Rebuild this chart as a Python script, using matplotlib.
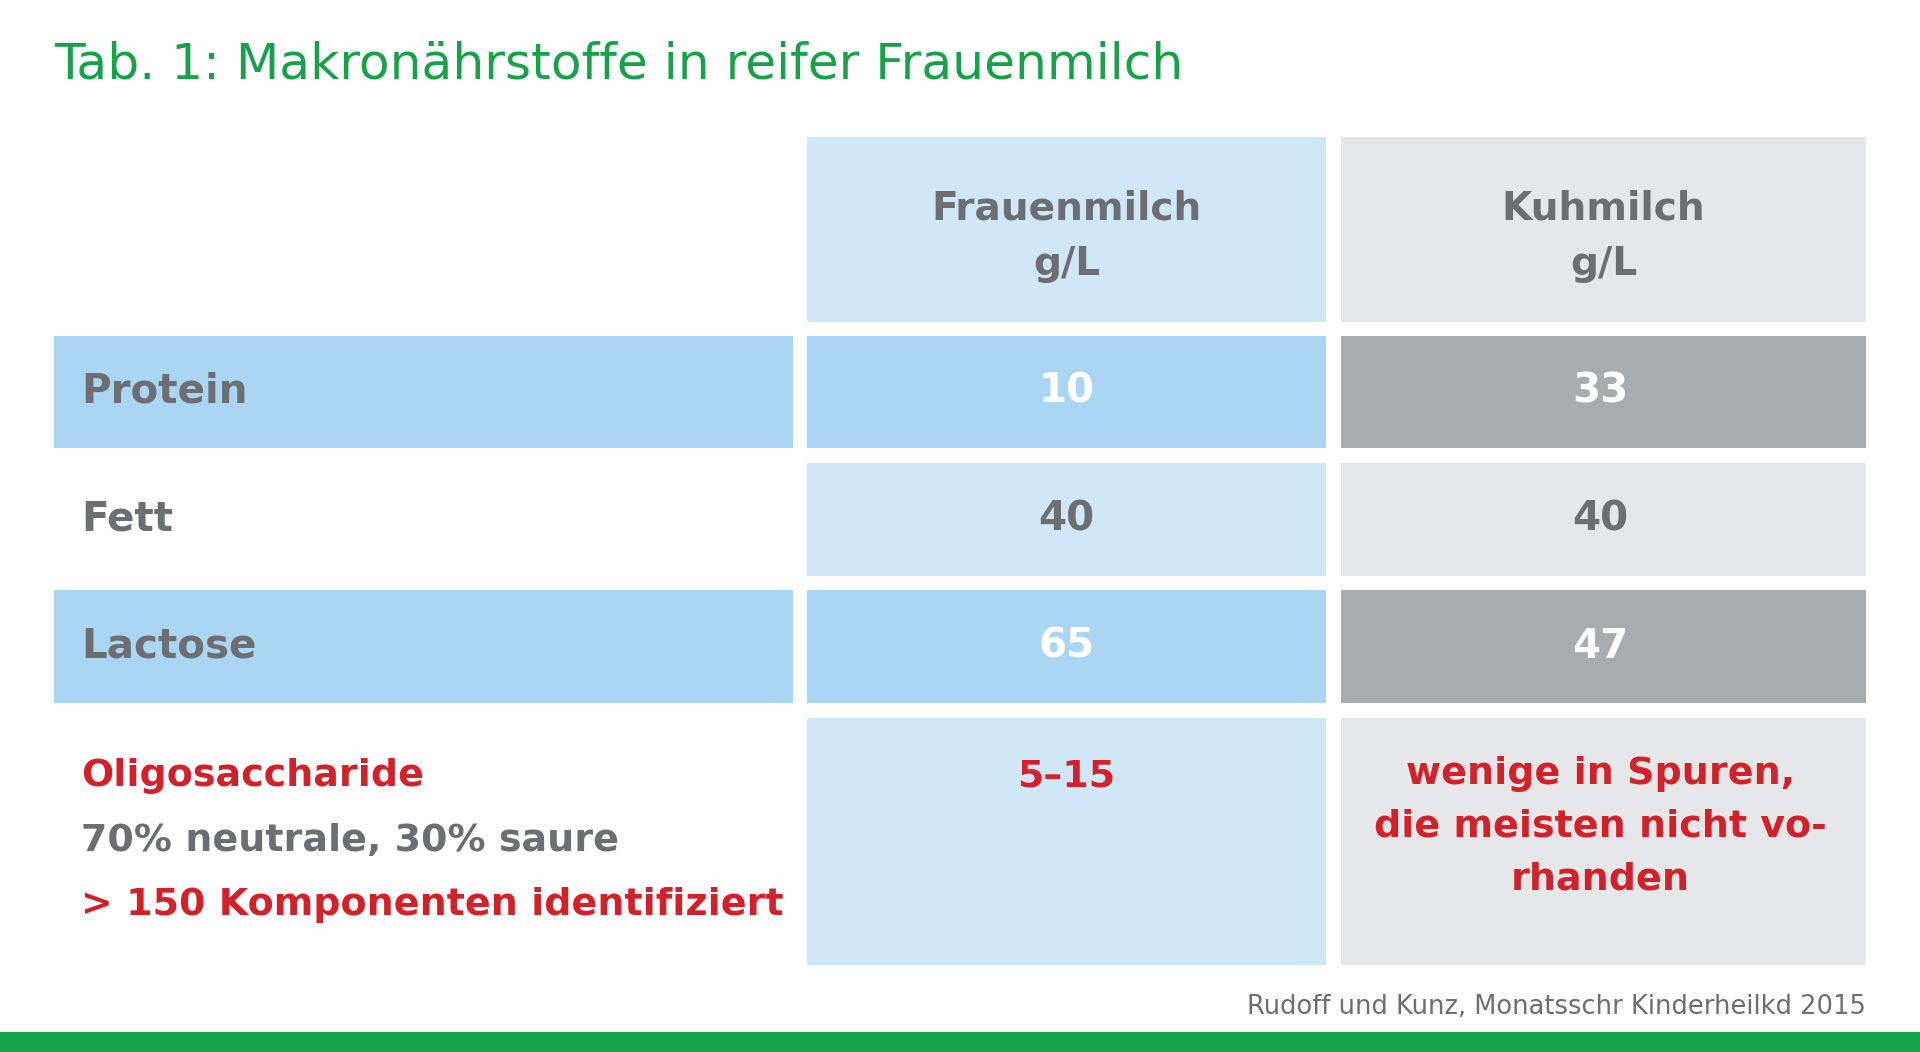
import matplotlib.pyplot as plt
from matplotlib.patches import Rectangle

title = 'Tab. 1: Makronährstoffe in reifer Frauenmilch'
col_heads = ['Frauenmilch\ng/L', 'Kuhmilch\ng/L']
rows = ['Protein', 'Fett', 'Lactose']
frauen = ['10', '40', '65']
kuh = ['33', '40', '47']
oligo_lines = ['Oligosaccharide', '70% neutrale, 30% saure', '> 150 Komponenten identifiziert']
oligo_frauen = '5–15'
oligo_kuh = 'wenige in Spuren,\ndie meisten nicht vo-\nrhanden'
source = 'Rudoff und Kunz, Monatsschr Kinderheilkd 2015'

GREEN = '#16a249'
GREY = '#6d6e71'
RED = '#d42029'
LB, MB = '#d0e7f8', '#aad5f3'
LG, DG = '#e6e7e8', '#a9acaf'
FONT = 'DejaVu Sans'

fig = plt.figure(figsize=(19.2, 10.52), dpi=100)
ax = fig.add_axes([0, 0, 1, 1])
ax.set_xlim(0, 1568)
ax.set_ylim(859, 0)
ax.axis('off')

s = 1.2245 / 1.389  # ref px -> pt

def txt(x, y, t, size, color, ha='left', weight='bold', ls=1.6):
    ax.text(x, y, t, fontsize=size * s, color=color, ha=ha, va='center',
            fontweight=weight, family=FONT, linespacing=ls)

txt(44, 53, title, 41, GREEN, weight='normal')

cols = [(44, 648), (659, 1083), (1095, 1524)]
bands = [(274, 366), (378, 470), (482, 574)]

# header
ax.add_patch(Rectangle((659, 112), 424, 151, color=LB, lw=0))
ax.add_patch(Rectangle((1095, 112), 429, 151, color=LG, lw=0))
for (x0, x1), h in zip(cols[1:], col_heads):
    txt((x0 + x1) / 2, 193, h, 32, GREY, ha='center')

for i, (y0, y1) in enumerate(bands):
    dark = i % 2 == 0
    yc = (y0 + y1) / 2
    if dark:
        ax.add_patch(Rectangle((44, y0), 604, y1 - y0, color=MB, lw=0))
    ax.add_patch(Rectangle((659, y0), 424, y1 - y0, color=MB if dark else LB, lw=0))
    ax.add_patch(Rectangle((1095, y0), 429, y1 - y0, color=DG if dark else LG, lw=0))
    txt(66, yc, rows[i], 33, GREY)
    txt(871, yc, frauen[i], 33, 'white' if dark else GREY, ha='center')
    txt(1307, yc, kuh[i], 33, 'white' if dark else GREY, ha='center')

ax.add_patch(Rectangle((659, 586), 424, 202, color=LB, lw=0))
ax.add_patch(Rectangle((1095, 586), 429, 202, color=LG, lw=0))
for j, t in enumerate(oligo_lines):
    txt(66, 634 + 52.5 * j, t, 31, GREY if j == 1 else RED)
txt(871, 634, oligo_frauen, 31, RED, ha='center')
ax.text(1307, 617, oligo_kuh, fontsize=31 * s, color=RED, ha='center', va='top',
        fontweight='bold', family=FONT, linespacing=1.6)

txt(1524, 822, source, 21, GREY, ha='right', weight='normal')
ax.add_patch(Rectangle((0, 843), 1568, 16, color=GREEN, lw=0))

fig.savefig('out.png', dpi=100)
